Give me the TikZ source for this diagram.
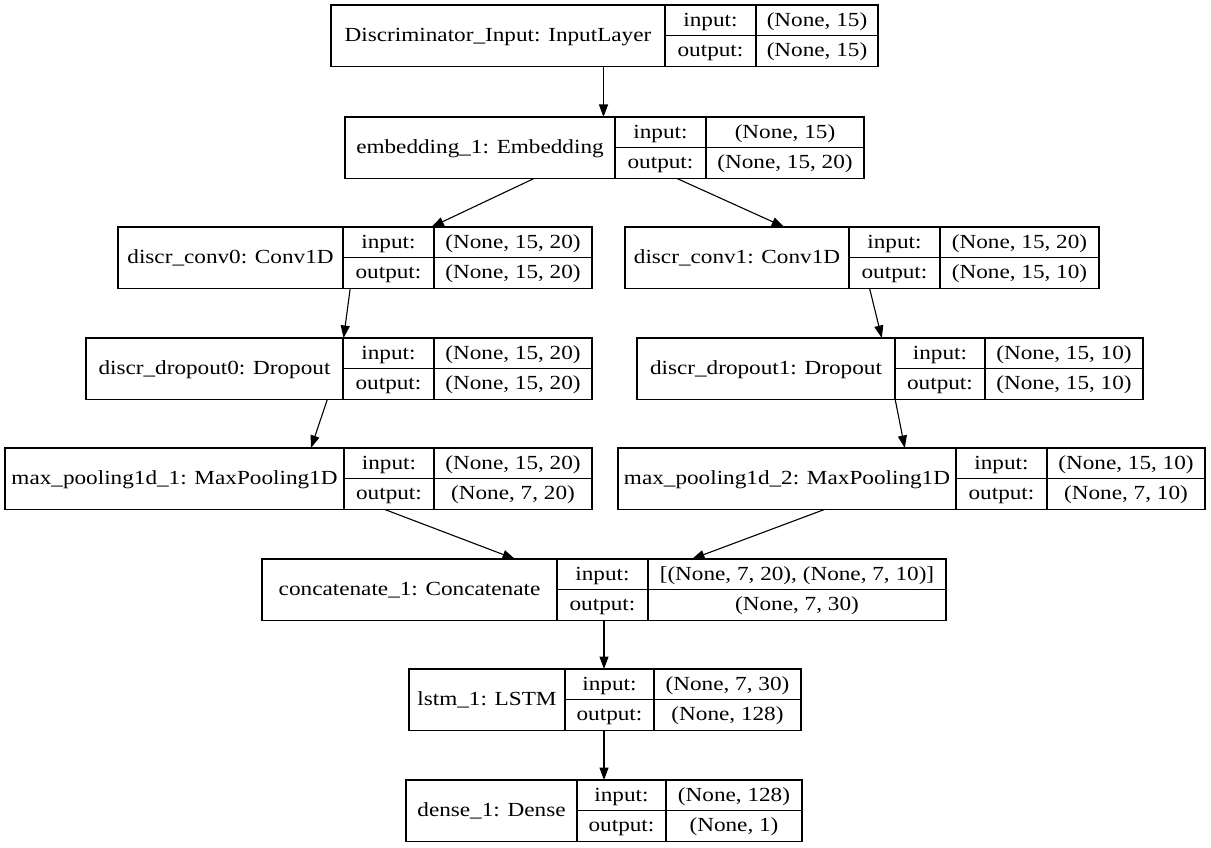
\documentclass[tikz,border=0pt]{standalone}
\usepackage{fontspec}
\setmainfont{Liberation Serif}[FakeStretch=1.16]
\usetikzlibrary{arrows.meta}

\tikzset{
  layer/.style={draw=black, line width=1.2pt, rectangle, inner sep=0pt, outer sep=0pt},
  cell/.style={draw=black, line width=1.2pt},
  txt/.style={anchor=base, inner sep=0pt, outer sep=0pt, text=black,
              font=\fontsize{20}{24}\selectfont},
  flow/.style={draw=black, line width=1.1pt, -{Triangle[length=12.5pt,width=9pt]}},
}

% \layerbox{name}{left}{divider 1}{divider 2}{right}{top}{layer}{input shape}{output shape}
\newcommand\layerbox[9]{%
  \pgfmathsetmacro\lbw{#5-#2}%
  \pgfmathsetmacro\lbx{(#5+#2)/2}%
  \node[layer, minimum width=\lbw pt, minimum height=61.5pt] (#1) at (\lbx,#6+30.75) {};
  \draw[cell] (#3,#6) -- (#3,#6+61.5)
              (#4,#6) -- (#4,#6+61.5)
              (#3,#6+30.75) -- (#5,#6+30.75);
  \node[txt] (#1-name)  at ({(#2+#3)/2},#6+36.55) {#7};
  \node[txt] (#1-inkey) at ({(#3+#4)/2},#6+21.2) {input:};
  \node[txt] (#1-outkey) at ({(#3+#4)/2},#6+51.95) {output:};
  \node[txt] (#1-inval) at ({(#4+#5)/2},#6+21.2) {#8};
  \node[txt] (#1-outval) at ({(#4+#5)/2},#6+51.95) {#9};
}

\begin{document}
\begin{tikzpicture}[x=1pt,y=-1pt]
  \fill[white] (0,0) rectangle (1211,848);
  \useasboundingbox (0,0) rectangle (1211,848);

  \layerbox{inp}{331}{665}{756}{878}{5}{Discriminator\_Input: InputLayer}{(None, 15)}{(None, 15)}
  \layerbox{emb}{345}{615}{706}{864}{117}{embedding\_1: Embedding}{(None, 15)}{(None, 15, 20)}
  \layerbox{conva}{118}{343}{434}{592}{227}{discr\_conv0: Conv1D}{(None, 15, 20)}{(None, 15, 20)}
  \layerbox{convb}{625}{849}{940}{1099}{227}{discr\_conv1: Conv1D}{(None, 15, 20)}{(None, 15, 10)}
  \layerbox{dropa}{86}{343}{434}{592}{338}{discr\_dropout0: Dropout}{(None, 15, 20)}{(None, 15, 20)}
  \layerbox{dropb}{637}{895}{985}{1143}{338}{discr\_dropout1: Dropout}{(None, 15, 10)}{(None, 15, 10)}
  \layerbox{poola}{5}{344}{434}{592}{448}{max\_pooling1d\_1: MaxPooling1D}{(None, 15, 20)}{(None, 7, 20)}
  \layerbox{poolb}{618}{956}{1047}{1205}{448}{max\_pooling1d\_2: MaxPooling1D}{(None, 15, 10)}{(None, 7, 10)}
  \layerbox{concat}{262}{557}{648}{946}{559}{concatenate\_1: Concatenate}{[(None, 7, 20), (None, 7, 10)]}{(None, 7, 30)}
  \layerbox{lstm}{409}{565}{654}{801}{669}{lstm\_1: LSTM}{(None, 7, 30)}{(None, 128)}
  \layerbox{dense}{406}{577}{666}{802}{780}{dense\_1: Dense}{(None, 128)}{(None, 1)}

  % data flow between layers
  \draw[flow] ([xshift=-1pt]inp.south) -- ([xshift=-1pt]emb.north);
  \draw[flow] ([xshift=-70.5pt]emb.south) -- ([xshift=76.4pt]conva.north);
  \draw[flow] ([xshift=72.5pt]emb.south) -- ([xshift=-77.8pt]convb.north);
  \draw[flow] ([xshift=-4.8pt]conva.south) -- ([xshift=4.6pt]dropa.north);
  \draw[flow] ([xshift=7.6pt]convb.south) -- ([xshift=-8.2pt]dropb.north);
  \draw[flow] ([xshift=-11.7pt]dropa.south) -- ([xshift=12.5pt]poola.north);
  \draw[flow] ([xshift=5.2pt]dropb.south) -- ([xshift=-6.7pt]poolb.north);
  \draw[flow] ([xshift=86.3pt]poola.south) -- ([xshift=-89pt]concat.north);
  \draw[flow] ([xshift=-87.1pt]poolb.south) -- ([xshift=88pt]concat.north);
  \draw[flow] (concat.south) -- ([xshift=-1pt]lstm.north);
  \draw[flow] ([xshift=-1pt]lstm.south) -- (dense.north);
\end{tikzpicture}
\end{document}
